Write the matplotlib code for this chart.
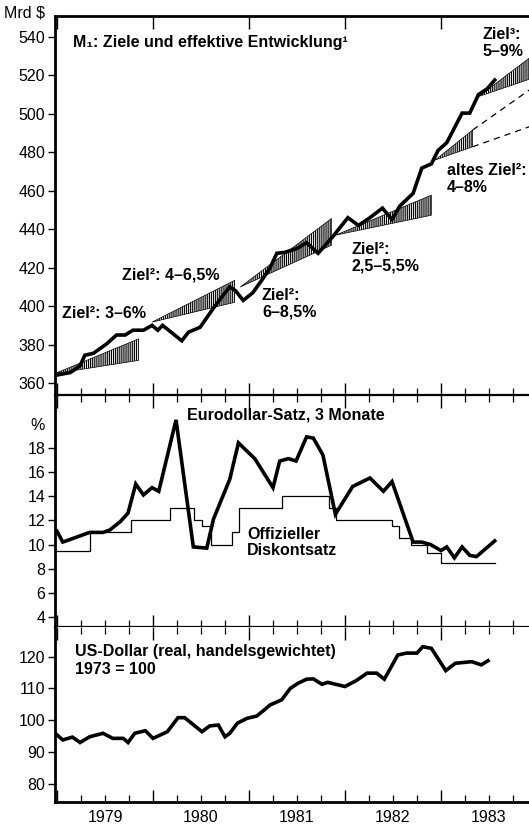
import matplotlib
matplotlib.use("Agg")
import matplotlib.pyplot as plt

plt.rcParams['font.family'] = ['Liberation Sans', 'DejaVu Sans']
plt.rcParams['hatch.linewidth'] = 0.85

# M1, Mrd $
m1_t = [1978.98, 1979.14, 1979.24, 1979.29, 1979.38, 1979.52, 1979.62, 1979.71, 1979.79,
        1979.90, 1979.99, 1980.05, 1980.10, 1980.30, 1980.37, 1980.49, 1980.56, 1980.63,
        1980.72, 1980.80, 1980.86, 1980.94, 1981.04, 1981.14, 1981.22, 1981.29, 1981.375,
        1981.50, 1981.60, 1981.72, 1981.87, 1982.03, 1982.14, 1982.26, 1982.39, 1982.49,
        1982.57, 1982.71, 1982.80, 1982.90, 1982.97, 1983.06, 1983.22, 1983.30, 1983.39,
        1983.48, 1983.56]
m1_v = [364, 365.5, 369, 374.5, 375.5, 380.5, 385, 385, 387.5,
        387.5, 390, 387.5, 390, 382, 386.5, 389, 394, 399,
        405, 410, 408, 403, 407, 414, 420, 427.5, 428,
        430, 433, 427.5, 436, 446, 442, 446, 451, 445,
        452, 458.7, 471.8, 474, 481, 485, 500.4, 500.4, 510,
        513, 517.6]

# Zielkorridore (Keile): Start, Ende, Basis, oberer / unterer Endwert
band_t0 = [1978.98, 1979.99, 1980.91, 1981.90, 1982.94, 1983.39]
band_t1 = [1979.85, 1980.85, 1981.86, 1982.90, 1983.33, 1983.92]
band_v0 = [365, 391.7, 410, 436.9, 476, 509]
band_hi = [383, 413.4, 445.6, 457.7, 491.6, 529]
band_lo = [371.8, 402, 431.7, 447.3, 482.9, 518]

# altes Ziel, gestrichelte Verlaengerung
old_t = [1983.33, 1983.92]
old_hi = [491.6, 512.4]
old_lo = [482.9, 493.3]

# Eurodollar-Satz, 3 Monate (%)
euro_t = [1979.00, 1979.06, 1979.20, 1979.34, 1979.48, 1979.55, 1979.66, 1979.74, 1979.82,
          1979.90, 1979.99, 1980.06, 1980.24, 1980.42, 1980.56, 1980.63, 1980.80, 1980.89,
          1981.06, 1981.25, 1981.32, 1981.41, 1981.49, 1981.60, 1981.67, 1981.77, 1981.90,
          1982.08, 1982.26, 1982.40, 1982.49, 1982.71, 1982.80, 1982.89, 1983.00, 1983.06,
          1983.14, 1983.22, 1983.30, 1983.37, 1983.56]
euro_v = [11.1, 10.2, 10.6, 11.0, 11.0, 11.2, 11.9, 12.6, 15.0,
          14.1, 14.7, 14.4, 20.3, 9.8, 9.7, 12.1, 15.4, 18.4,
          17.1, 14.7, 16.9, 17.1, 16.9, 18.9, 18.8, 17.4, 12.5,
          14.8, 15.5, 14.4, 15.2, 10.2, 10.2, 10.0, 9.5, 9.8,
          8.9, 9.8, 9.1, 9.0, 10.3]

# Offizieller Diskontsatz (%)
disk_t = [1979.00, 1979.34, 1979.77, 1980.18, 1980.43, 1980.51, 1980.60, 1980.82, 1980.90,
          1981.34, 1981.83, 1981.91, 1982.49, 1982.56, 1982.69, 1982.85, 1983.00, 1983.56]
disk_v = [9.5, 11, 12, 13, 12, 11.5, 10, 11, 13,
          14, 13, 12, 11.5, 10.5, 10, 9.3, 8.5, 8.5]

# US-Dollar real, handelsgewichtet (1973 = 100)
usd_t = [1978.98, 1979.06, 1979.16, 1979.24, 1979.34, 1979.48, 1979.58, 1979.69, 1979.74,
         1979.81, 1979.92, 1980.00, 1980.15, 1980.26, 1980.33, 1980.51, 1980.59, 1980.68,
         1980.75, 1980.80, 1980.88, 1980.98, 1981.08, 1981.17, 1981.22, 1981.34, 1981.43,
         1981.51, 1981.60, 1981.67, 1981.76, 1981.82, 1982.00, 1982.12, 1982.23, 1982.33,
         1982.41, 1982.55, 1982.64, 1982.75, 1982.81, 1982.90, 1983.05, 1983.15, 1983.32,
         1983.42, 1983.49]
usd_v = [95.9, 93.8, 94.7, 93.0, 94.8, 95.9, 94.3, 94.3, 93.0,
         95.9, 96.7, 94.3, 96.4, 100.8, 100.8, 96.4, 98.2, 98.5,
         94.8, 95.9, 99.1, 100.6, 101.3, 103.5, 104.8, 106.4, 110.0,
         111.6, 112.9, 113.0, 111.3, 111.9, 110.6, 112.5, 114.8, 114.8,
         112.9, 120.5, 121.1, 121.1, 123.1, 122.6, 115.6, 117.9, 118.4,
         117.4, 118.7]

years = [1979, 1980, 1981, 1982, 1983]
quarters = [y + q for y in years for q in (0.25, 0.5, 0.75)]
quarter_labels = [str(int(q)) if abs(q - int(q) - 0.5) < 0.01 else "" for q in quarters]

W, H = 529, 827
fig = plt.figure(figsize=(W / 100, H / 100), dpi=100)

def box(top, bottom):
    return [55 / W, 1 - bottom / H, 1 - 55 / W, (bottom - top) / H]

ax1 = fig.add_axes(box(16, 395))
ax2 = fig.add_axes(box(395, 627))
ax3 = fig.add_axes(box(627, 802))

xlim = (1978.979, 1983.917)
fs = 11.5

for ax in (ax1, ax2, ax3):
    ax.set_xlim(*xlim)
    ax.spines['right'].set_visible(False)
    ax.spines['left'].set_linewidth(2.0)
    ax.set_xticks(years)
    ax.set_xticks(quarters, minor=True)
    ax.tick_params(axis='x', which='major', direction='in', top=True, bottom=True,
                   length=9, width=1.0, labelbottom=False)
    ax.tick_params(axis='x', which='minor', direction='in', top=True, bottom=True,
                   length=5, width=0.9, labelbottom=False)
    ax.tick_params(axis='y', direction='out', length=5, width=1.0, labelsize=fs, pad=2)

# --- Panel 1: M1 ---
ax1.set_ylim(353.8, 550.9)
ax1.set_yticks(range(360, 541, 20))
ax1.spines['top'].set_linewidth(2.0)
ax1.spines['bottom'].set_visible(False)
ax1.tick_params(axis='x', which='minor', top=False)

for t0, t1, v0, hi, lo in zip(band_t0, band_t1, band_v0, band_hi, band_lo):
    ax1.fill_between([t0, t1], [v0, lo], [v0, hi], facecolor='white', edgecolor='black',
                     hatch='|' * 8, linewidth=0.5, zorder=2)
ax1.plot(old_t, old_hi, color='black', lw=0.9, ls=(0, (5, 4)), zorder=2)
ax1.plot(old_t, old_lo, color='black', lw=0.9, ls=(0, (5, 4)), zorder=2)
ax1.plot(m1_t, m1_v, color='black', lw=2.6, solid_joinstyle='miter', zorder=3)

bold = dict(fontsize=fs, fontweight='bold', va='center', ha='left', linespacing=1.15)
ax1.text(1979.167, 536.9, "M\u2081: Ziele und effektive Entwicklung\u00b9", **bold)
ax1.text(1979.05, 396.4, "Ziel\u00b2: 3\u20136%", **bold)
ax1.text(1979.68, 416.2, "Ziel\u00b2: 4\u20136,5%", **bold)
ax1.text(1981.135, 401.3, "Ziel\u00b2:\n6\u20138,5%", **bold)
ax1.text(1982.07, 425.3, "Ziel\u00b2:\n2,5\u20135,5%", **bold)
ax1.text(1983.06, 466.0, "altes Ziel\u00b2:\n4\u20138%", **bold)
ax1.text(1983.43, 536.9, "Ziel\u00b3:\n5\u20139%", **bold)
fig.text(25 / W, 1 - 13 / H, "Mrd $", fontsize=fs, ha='center', va='center')

# --- Panel 2: Zinsen ---
ax2.set_ylim(3.18, 22.36)
ax2.set_yticks(range(4, 19, 2))
ax2.spines['top'].set_linewidth(1.6)
ax2.spines['bottom'].set_linewidth(1.6)
ax2.step(disk_t, disk_v, where='post', color='black', lw=0.9, zorder=2)
ax2.plot(euro_t, euro_v, color='black', lw=2.6, solid_joinstyle='miter', zorder=3)
ax2.text(1980.354, 20.7, "Eurodollar-Satz, 3 Monate", **bold)
ax2.text(1980.98, 10.17, "Offizieller\nDiskontsatz", **bold)
fig.text(38 / W, 1 - 425 / H, "%", fontsize=fs, ha='center', va='center')

# --- Panel 3: US-Dollar ---
ax3.set_ylim(74.3, 129.3)
ax3.set_yticks(range(80, 121, 10))
ax3.spines['top'].set_visible(False)
ax3.spines['bottom'].set_linewidth(2.0)
ax3.plot(usd_t, usd_v, color='black', lw=2.6, solid_joinstyle='miter', zorder=3)
ax3.text(1979.19, 121.5, "US-Dollar (real, handelsgewichtet)", **bold)
ax3.text(1979.19, 115.8, "1973 = 100", **bold)
ax3.set_xticks(quarters, quarter_labels, minor=True)
ax3.tick_params(axis='x', which='minor', labelbottom=True, labelsize=fs, pad=6)

fig.savefig("out.png", dpi=100)
